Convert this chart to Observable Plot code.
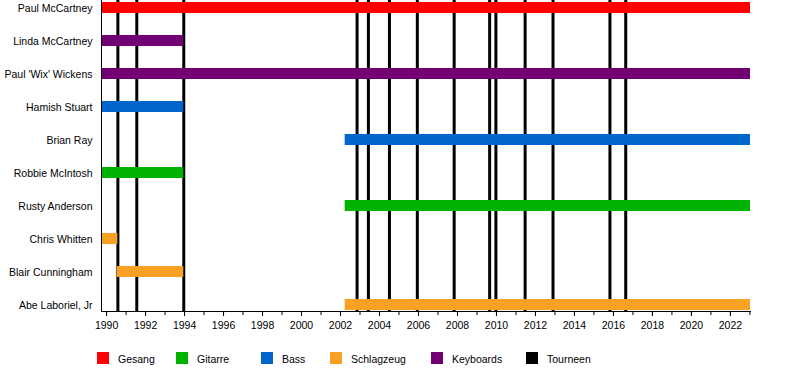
<!DOCTYPE html>
<html>
<head>
<meta charset="utf-8">
<script src="https://cdn.jsdelivr.net/npm/d3@7"></script>
<script src="https://cdn.jsdelivr.net/npm/@observablehq/plot@0.6"></script>
<style>
  html, body { margin: 0; padding: 0; background: #fff; }
  body { width: 800px; height: 370px; overflow: hidden; font-family: "Liberation Sans", Arial, sans-serif; }
  #legend { position: relative; height: 34px; font-size: 10px; color: #000; }
  .sw { width: 12px; height: 12px; position: absolute; }
  .lab { position: absolute; white-space: nowrap; line-height: 12px; }
</style>
</head>
<body>
<div id="chart"></div>
<div id="legend"></div>
<script>
// ---- data ----
const members = ["Paul McCartney", "Linda McCartney", "Paul 'Wix' Wickens", "Hamish Stuart", "Brian Ray", "Robbie McIntosh", "Rusty Anderson", "Chris Whitten", "Blair Cunningham", "Abe Laboriel, Jr"];
const barMember = ["Paul McCartney", "Linda McCartney", "Paul 'Wix' Wickens", "Hamish Stuart", "Brian Ray", "Robbie McIntosh", "Rusty Anderson", "Chris Whitten", "Blair Cunningham", "Abe Laboriel, Jr"];
const barRole = ["Gesang", "Keyboards", "Keyboards", "Bass", "Bass", "Gitarre", "Gitarre", "Schlagzeug", "Schlagzeug", "Schlagzeug"];
const barStart = [1989.74, 1989.74, 1989.74, 1989.74, 2002.24, 1989.74, 2002.24, 1989.74, 1990.55, 2002.24];
const barEnd = [2023.03, 1993.96, 2023.03, 1993.96, 2023.03, 1993.96, 2023.03, 1990.58, 1993.96, 2023.03];
const tourDates = [1990.58, 1991.55, 1993.96, 2002.85, 2003.43, 2004.51, 2005.94, 2007.83, 2009.65, 2009.97, 2011.47, 2012.90, 2015.82, 2016.63];
const roles = ["Gesang", "Gitarre", "Bass", "Schlagzeug", "Keyboards", "Tourneen"];
const roleColors = ["#ff0000", "#00b300", "#0066cc", "#f9a125", "#730073", "#000000"];
const yearTicks = [1990, 1992, 1994, 1996, 1998, 2000, 2002, 2004, 2006, 2008, 2010, 2012, 2014, 2016, 2018, 2020, 2022];
const minorTicks = d3.range(1990, 2024);
const xDomain = [1989.74, 2023.03];

const bars = barMember.map((m, i) => ({member: m, role: barRole[i], start: barStart[i], end: barEnd[i]}));
const tours = tourDates.map(d => ({date: d}));

const plot = Plot.plot({
  width: 800,
  height: 336,
  marginLeft: 101,
  marginRight: 50,
  marginTop: 0,
  marginBottom: 25,
  style: {fontFamily: "'Liberation Sans', Arial, sans-serif", fontSize: "10px", color: "#000", background: "#fff"},
  x: {domain: xDomain},
  y: {type: "band", domain: members, paddingInner: 0.67, paddingOuter: 0},
  color: {domain: roles, range: roleColors},
  marks: [
    Plot.ruleX(tours, {x: "date", stroke: "#000", strokeWidth: 3}),
    Plot.barX(bars, {y: "member", x1: "start", x2: "end", fill: d => d.role}),
    Plot.axisX({ticks: minorTicks, tickFormat: () => "", tickSize: 4, label: null}),
    Plot.axisX({ticks: yearTicks, tickFormat: "d", tickSize: 5, tickPadding: 5, label: null, fontSize: 10.5}),
    Plot.axisY({tickSize: 0, tickPadding: 9, label: null, fontSize: 10.5, dy: 1}),
    Plot.frame({anchor: "bottom", stroke: "#000"}),
    Plot.frame({anchor: "left", stroke: "#000"})
  ]
});
document.getElementById("chart").appendChild(plot);

// legend
const swX = [97, 176, 261, 330, 431, 526];
const legend = document.getElementById("legend");
roles.forEach((r, i) => {
  const sw = document.createElement("div");
  sw.className = "sw";
  sw.style.left = swX[i] + "px";
  sw.style.top = "16px";
  sw.style.background = roleColors[i];
  legend.appendChild(sw);
  const lab = document.createElement("div");
  lab.className = "lab";
  lab.textContent = r;
  lab.style.left = (swX[i] + 21) + "px";
  lab.style.top = "17px";
  lab.style.fontSize = "10.5px";
  legend.appendChild(lab);
});
</script>
</body>
</html>
